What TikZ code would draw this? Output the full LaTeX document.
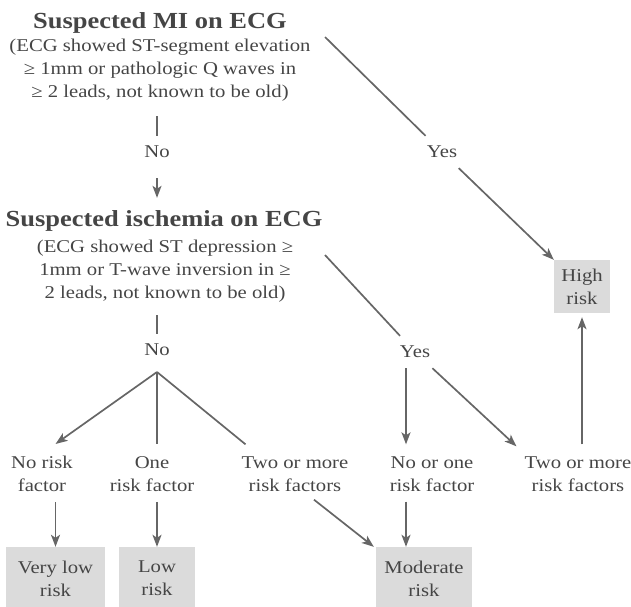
\documentclass[tikz,border=0pt]{standalone}
\usepackage{fontspec}
\setmainfont{Liberation Serif}[FakeStretch=1.15]
\usetikzlibrary{arrows.meta,calc,positioning}
\definecolor{ink}{gray}{0.27}
\definecolor{wire}{gray}{0.4}
\definecolor{shade}{gray}{0.86}

\begin{document}
\begin{tikzpicture}[x=1pt,y=-1pt,>={Stealth[length=12pt,width=9pt,inset=3pt]},
  text=ink,
  link/.style={draw=wire,line width=1.7pt},
  flow/.style={link,->},
  ann/.style={align=center,inner sep=0pt,font=\fontsize{18}{23}\selectfont},
  hd/.style={inner sep=0pt,anchor=base,font=\fontsize{23}{27}\selectfont\bfseries},
  lbl/.style={ann,inner sep=10pt},
  riskbox/.style={ann,fill=shade,minimum height=63pt}]
\useasboundingbox (0,0) rectangle (631,606);
\node[hd] (mihead) at (160,28) {Suspected MI on ECG};
\node[ann] (midesc) at (160,70)
 {(ECG showed ST-segment elevation\\
 ≥ 1mm or pathologic Q waves in\\
 ≥ 2 leads, not known to be old)};
\node[lbl] (no1) at (157,152) {No};
\node[hd] (ishead) at (164,226) {Suspected ischemia on ECG};
\node[ann] (isdesc) at (165,271)
 {(ECG showed ST depression ≥\\
 1mm or T-wave inversion in ≥\\
 2 leads, not known to be old)};
\node[lbl] (no2) at (157,350) {No};
\node[lbl] (yes1) at (442,152) {Yes};
\node[lbl] (yes2) at (415,352) {Yes};
\coordinate (miout) at (325,37);
\coordinate (isout) at (325,255);
\coordinate (fork) at (157,372);
% answer row
\node[ann] (norisk) at (42,474) {No risk\\factor};
\node[ann] (onerisk) at (152,474) {One\\risk factor};
\node[ann] (twoleft) at (295,474) {Two or more\\risk factors};
\node[ann] (noone) at (432,474) {No or one\\risk factor};
\node[ann] (tworight) at (578,474) {Two or more\\risk factors};
% outcomes
\node[riskbox,minimum width=99pt] (verylow) at (55.5,578.5) {Very low\\risk};
\node[riskbox,minimum width=76pt] (low) at (157,578.5) {Low\\risk};
\node[riskbox,minimum width=96pt] (moderate) at (424,578.5) {Moderate\\risk};
\node[riskbox,minimum width=56pt,minimum height=53pt] (high) at (582,286.5) {High\\risk};
\coordinate (modin) at ($(moderate.north)+(-18,0)$);
\coordinate (yesdown) at ($(yes2.south)+(-9,0)$);
\draw[link,shorten <=15pt] (no1 |- midesc.south) -- (no1);
\draw[flow,shorten <=10pt,shorten >=12pt] (no1) -- (no1 |- ishead.north);
\draw[link,shorten <=13pt] (no2 |- isdesc.south) -- (no2);
\draw[flow] (fork) -- ($(verylow.north |- norisk.north)+(0,-12)$);
\draw[link] (fork) -- ($(fork |- onerisk.north)+(0,-12)$);
\draw[link] (fork) -- ($(twoleft.north west)+(4,-12)$);
\draw[flow,shorten <=10pt] (verylow.north |- norisk.south) -- (verylow.north);
\draw[flow,shorten <=10pt] (low.north |- onerisk.south) -- (low.north);
\draw[flow] ($(twoleft.south)+(19,8)$) -- ($(moderate.north west)+(-2,0)$);
\draw[link] (miout) -- (yes1);
\draw[flow] (yes1) -- (high.north west);
\draw[link] (isout) -- (yes2);
\draw[flow] (yes2) -- ($(tworight.north west)+(-8,-10)$);
\draw[flow] (yesdown) -- ($(yesdown |- noone.north)+(0,-12)$);
\draw[flow,shorten <=10pt] (modin |- noone.south) -- (modin);
\draw[flow,shorten <=12pt,shorten >=4pt] (high.south |- tworight.north) -- (high.south);
\end{tikzpicture}
\end{document}
